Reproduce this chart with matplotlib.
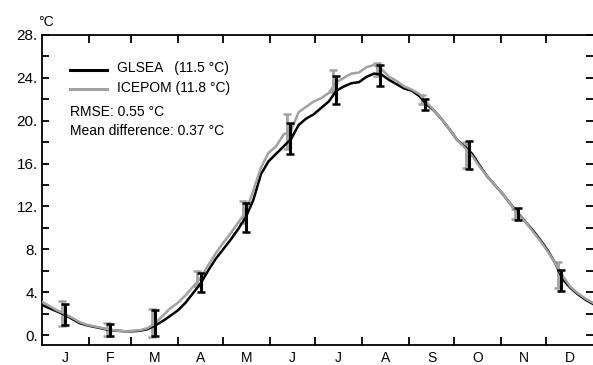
import matplotlib
matplotlib.use("Agg")
import matplotlib.pyplot as plt
from matplotlib.lines import Line2D
import numpy as np

plt.rcParams['font.family'] = ['Liberation Sans', 'DejaVu Sans']

# ---- data ----
days = [0, 5, 10, 15, 20, 25, 30, 35, 40, 45, 50, 55, 60, 65, 70, 75, 80, 85, 90, 95,
        100, 105, 110, 115, 120, 125, 130, 135, 140, 145, 150, 155, 160, 165, 170, 175,
        180, 185, 190, 195, 200, 205, 210, 215, 220, 225, 230, 235, 240, 245, 250, 255,
        260, 265, 270, 275, 280, 285, 290, 295, 300, 305, 310, 315, 320, 325, 330, 335,
        340, 345, 350, 355, 360, 365]
glsea = [2.8, 2.5, 2.2, 1.9, 1.5, 1.1, 0.9, 0.75, 0.6, 0.45, 0.4, 0.35, 0.35, 0.4, 0.55,
         0.9, 1.3, 1.8, 2.3, 3.0, 3.9, 4.8, 6.0, 7.1, 8.0, 8.9, 9.9, 11.0, 12.6, 15.0,
         16.2, 16.9, 17.6, 18.3, 19.6, 20.2, 20.6, 21.2, 21.8, 22.8, 23.2, 23.5, 23.6,
         24.1, 24.4, 24.3, 23.8, 23.4, 23.0, 22.8, 22.3, 21.5, 20.9, 20.1, 19.2, 18.2,
         17.6, 16.9, 15.8, 14.8, 14.0, 13.2, 12.3, 11.4, 10.6, 9.8, 8.9, 7.9, 6.7, 5.2,
         4.4, 3.8, 3.3, 2.9]
icepom = [3.1, 2.7, 2.3, 2.0, 1.6, 1.2, 0.95, 0.8, 0.65, 0.5, 0.4, 0.35, 0.4, 0.45, 0.65,
          1.1, 1.8, 2.5, 3.0, 3.7, 4.5, 5.3, 6.5, 7.6, 8.6, 9.5, 10.5, 11.5, 13.5, 15.6,
          17.0, 17.6, 18.7, 19.1, 20.8, 21.3, 21.8, 22.1, 22.6, 23.6, 24.0, 24.4, 24.5,
          25.0, 25.2, 24.8, 24.1, 23.7, 23.2, 22.9, 22.5, 21.7, 20.9, 20.1, 19.2, 18.2,
          17.5, 16.7, 15.7, 14.8, 14.0, 13.2, 12.3, 11.3, 10.6, 9.7, 8.8, 7.8, 6.7, 5.5,
          4.5, 3.9, 3.4, 3.0]

err_days_glsea = [15, 45, 75, 105, 135, 164, 195, 224, 254, 283, 315, 344]
err_mean_glsea = [1.9, 0.5, 1.1, 4.9, 11.0, 18.3, 22.9, 24.2, 21.5, 16.8, 11.3, 5.1]
err_sd_glsea = [1.0, 0.55, 1.2, 0.9, 1.35, 1.45, 1.3, 1.0, 0.5, 1.3, 0.6, 1.0]

err_days_icepom = [13, 43, 73, 103, 133, 162, 193, 222, 252, 281, 313, 342]
err_mean_icepom = [2.0, 0.5, 1.1, 5.3, 11.5, 19.0, 23.7, 24.8, 22.0, 16.8, 11.3, 5.6]
err_sd_icepom = [1.2, 0.6, 1.3, 0.7, 1.0, 1.6, 1.0, 0.6, 0.4, 1.2, 0.5, 1.2]

month_starts = [0, 31, 59, 90, 120, 151, 181, 212, 243, 273, 304, 334, 365]
month_labels = ['J', 'F', 'M', 'A', 'M', 'J', 'J', 'A', 'S', 'O', 'N', 'D']

# ---- figure ----
W, H = 593, 365
fig = plt.figure(figsize=(W / 100, H / 100), dpi=100)
ax = fig.add_axes([42 / W, 1 - 345 / H, (593 - 42) / W, (345 - 35) / H])

gray = '#a2a2a2'
ax.errorbar(err_days_icepom, err_mean_icepom, yerr=err_sd_icepom, fmt='none',
            ecolor=gray, elinewidth=2.0, capsize=2.8, capthick=1.8, zorder=2)
ax.plot(days, glsea, color='black', lw=1.8, zorder=3)
ax.plot(days, icepom, color=gray, lw=1.8, zorder=4)
ax.errorbar(err_days_glsea, err_mean_glsea, yerr=err_sd_glsea, fmt='none',
            ecolor='black', elinewidth=2.2, capsize=2.8, capthick=1.8, zorder=5)

ax.set_xlim(0, 365)
ax.set_ylim(-0.93, 28)

ax.spines['right'].set_visible(False)
for s in ['left', 'bottom', 'top']:
    ax.spines[s].set_linewidth(1.3)

# y ticks
ax.set_yticks(np.arange(0, 29, 4))
ax.set_yticklabels([f'{v}.' for v in range(0, 29, 4)])
ax.set_yticks(np.arange(2, 28, 4), minor=True)
ax.tick_params(axis='y', which='both', direction='in', length=5, width=1.3,
               left=True, right=True, labelsize=11, pad=3)

# x ticks: boundaries (no labels) and mid-month labels
mids = [(month_starts[i] + month_starts[i + 1]) / 2 for i in range(12)]
ax.set_xticks(month_starts[1:-1])
ax.set_xticklabels([])
ax.set_xticks(mids, minor=True)
ax.set_xticklabels(month_labels, minor=True)
ax.tick_params(axis='x', which='major', direction='in', length=6, width=1.3,
               top=True, bottom=True)
ax.tick_params(axis='x', which='minor', length=0, pad=4.5, labelsize=10)

fig.text(38 / W, 1 - 22 / H, '°C', fontsize=10, ha='left', va='center')

# legend
fig.add_artist(Line2D([70 / W, 107 / W], [1 - 70 / H, 1 - 70 / H], color='black', lw=2.2))
fig.add_artist(Line2D([70 / W, 107 / W], [1 - 89 / H, 1 - 89 / H], color=gray, lw=2.2))
fig.text(117 / W, 1 - 68 / H, 'GLSEA   (11.5 °C)', fontsize=10, va='center')
fig.text(117 / W, 1 - 88 / H, 'ICEPOM (11.8 °C)', fontsize=10, va='center')
fig.text(70 / W, 1 - 112 / H, 'RMSE: 0.55 °C', fontsize=10, va='center')
fig.text(70 / W, 1 - 131 / H, 'Mean difference: 0.37 °C', fontsize=10, va='center')

fig.savefig('out.png', dpi=100)
